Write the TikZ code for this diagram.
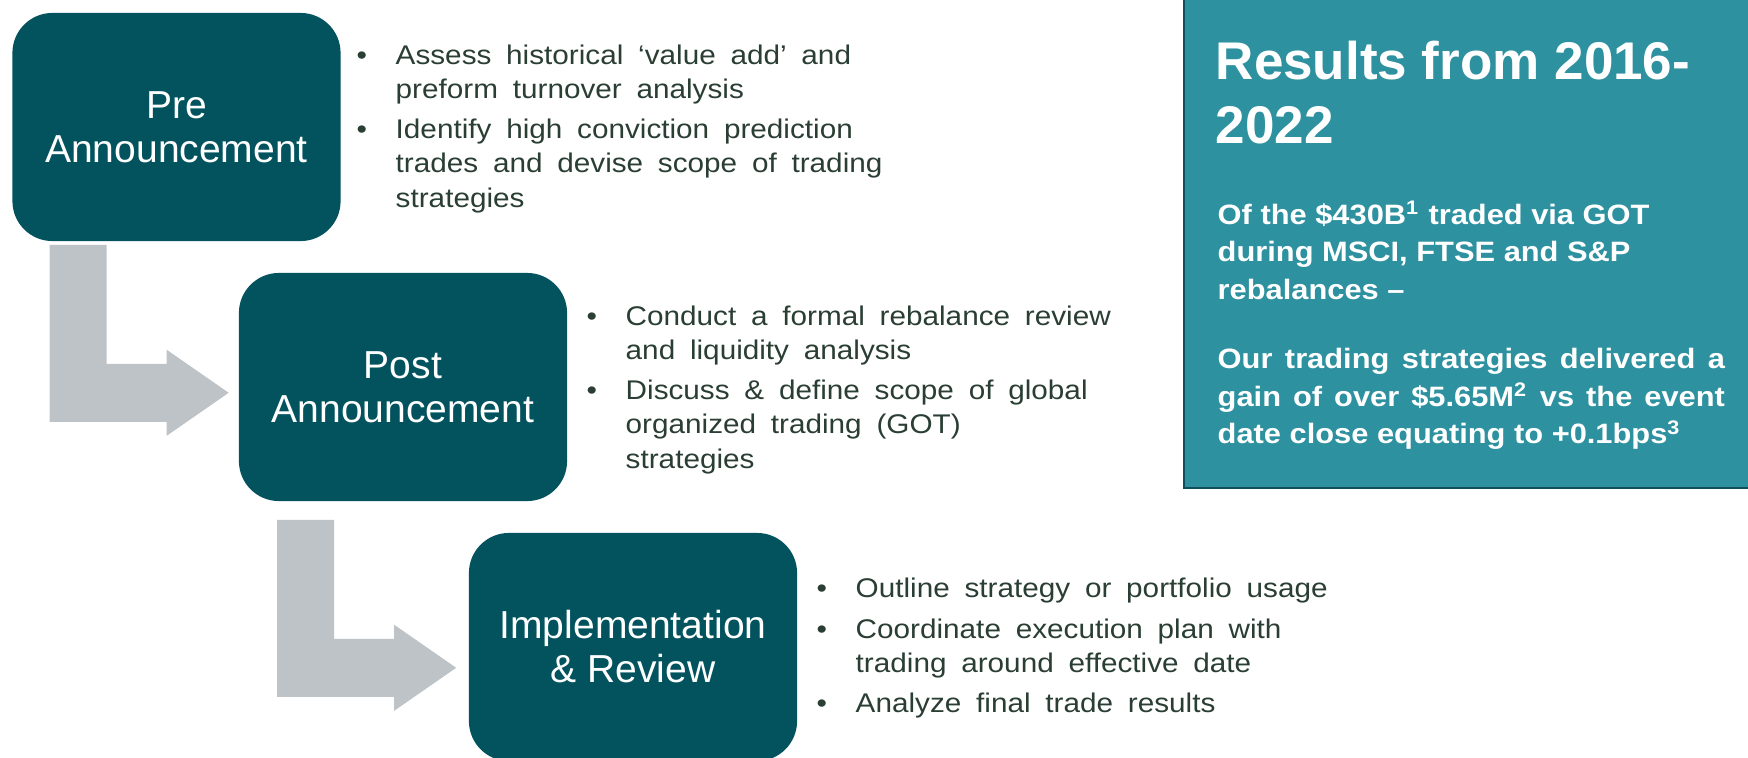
\documentclass[tikz,border=0pt]{standalone}
\usepackage{fontspec}
\setmainfont{Liberation Sans}
\newfontfamily\listfont[FakeStretch=1.1]{Liberation Sans}
\newfontfamily\panelfont[FakeStretch=1.1]{Liberation Sans}
\usetikzlibrary{calc}
\definecolor{boxteal}{HTML}{03535F}
\definecolor{panelteal}{HTML}{2D91A0}
\definecolor{paneledge}{HTML}{0E4F5B}
\definecolor{bendgray}{HTML}{BDC3C6}
\definecolor{listtext}{HTML}{2A3E34}
\newcommand{\listsetup}{\listfont\fontsize{7.68pt}{9.76pt}\selectfont\spaceskip=4.2pt\relax}
\newcommand{\listbul}{\makebox[3.9mm][l]{\textbullet}}
\newcommand{\listcont}{\hspace*{3.9mm}}
\newcommand{\fullline}[1]{\makebox[5.07cm][s]{#1}}

\begin{document}
\begin{tikzpicture}[x=0.01cm, y=-0.01cm,
  stagebox/.style={rectangle, rounded corners=0.4cm, fill=boxteal, text=white,
    minimum width=3.28cm, minimum height=2.28cm, inner sep=0, align=center,
    font=\fontsize{11.1pt}{12.52pt}\selectfont},
  bulletlist/.style={anchor=base west, inner sep=0, text=listtext, font=\listsetup},
  paneltext/.style={anchor=base west, inner sep=0, text=white},
  bendarrow/.style={fill=bendgray}]
  \useasboundingbox (0,0) rectangle (1748,757);

  % results panel
  \filldraw[fill=panelteal, draw=paneledge, line width=0.02cm] (1184,-10) rectangle (1760,488);
  \node[paneltext, font=\bfseries\fontsize{15.08pt}{18.21pt}\selectfont] (title) at (1215,79)
    {\begin{tabular}[t]{@{}l@{}}Results from 2016-\\2022\end{tabular}};
  \node[paneltext, font=\panelfont\bfseries\fontsize{7.97pt}{10.73pt}\selectfont] (result) at (1217,224)
    {\begin{tabular}[t]{@{}l@{}}Of the \$430B\textsuperscript{1} traded via GOT\\
      during MSCI, FTSE and S\&P\\
      rebalances \textendash\\[8.9pt]
      \fullline{Our trading strategies delivered a}\\
      \fullline{gain of over \$5.65M\textsuperscript{2} vs the event}\\
      date close equating to +0.1bps\textsuperscript{3}\end{tabular}};

  % stages
  \node[stagebox] (pre) at (176.5,127) {Pre\\Announcement};
  \node[stagebox] (post) at (403,387) {Post\\Announcement};
  \node[stagebox] (impl) at (633,647) {Implementation\\\& Review};

  \fill[bendarrow] ($(pre.south west)+(38,3)$) -- ++(57,0) -- ++(0,119) -- ++(60,0) -- ++(0,-14)
    -- ++(62,43) -- ++(-62,43) -- ++(0,-14) -- ++(-117,0) -- cycle;
  \fill[bendarrow] ($(post.south west)+(39,18)$) -- ++(57,0) -- ++(0,119) -- ++(60,0) -- ++(0,-14)
    -- ++(62,43) -- ++(-62,43) -- ++(0,-14) -- ++(-117,0) -- cycle;

  % bullet lists
  \node[bulletlist] (prelist) at (356,64) {\begin{tabular}[t]{@{}l@{}}
    \listbul Assess historical ‘value add’ and\\
    \listcont preform turnover analysis\\[1.7pt]
    \listbul Identify high conviction prediction\\
    \listcont trades and devise scope of trading\\
    \listcont strategies\end{tabular}};
  \node[bulletlist] (postlist) at (586,325) {\begin{tabular}[t]{@{}l@{}}
    \listbul Conduct a formal rebalance review\\
    \listcont and liquidity analysis\\[1.7pt]
    \listbul Discuss \& define scope of global\\
    \listcont organized trading (GOT)\\
    \listcont strategies\end{tabular}};
  \node[bulletlist] (impllist) at (816,597) {\begin{tabular}[t]{@{}l@{}}
    \listbul Outline strategy or portfolio usage\\[2pt]
    \listbul Coordinate execution plan with\\
    \listcont trading around effective date\\[1.7pt]
    \listbul Analyze final trade results\end{tabular}};
\end{tikzpicture}
\end{document}
